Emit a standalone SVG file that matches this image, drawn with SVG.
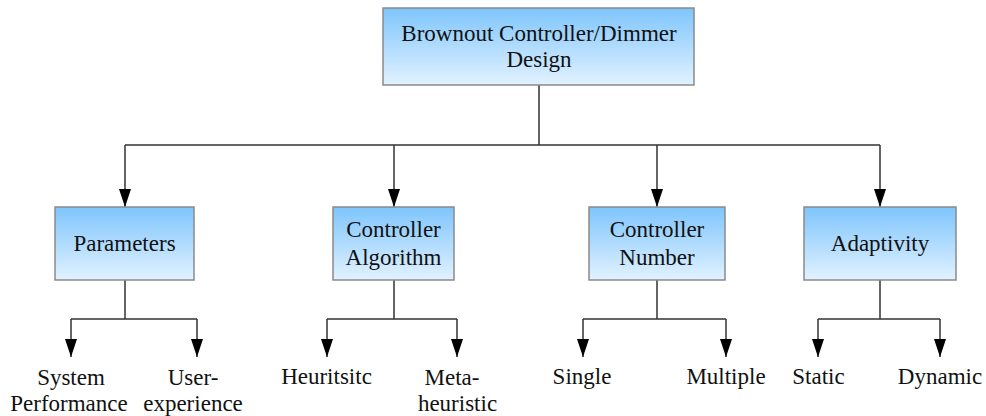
<svg xmlns="http://www.w3.org/2000/svg" width="986" height="416" viewBox="0 0 986 416">
  <defs>
    <linearGradient id="boxFill" x1="0" y1="0" x2="0" y2="1">
      <stop offset="0" stop-color="#7ec5fc"/>
      <stop offset="1" stop-color="#e2f2ff"/>
    </linearGradient>
    <marker id="arrow" viewBox="0 0 18 12" refX="18" refY="6" markerWidth="18" markerHeight="12" markerUnits="userSpaceOnUse" orient="auto">
      <path d="M0,0 L18,6 L0,12 Z" fill="#000"/>
    </marker>
    <style>
      .box { fill: url(#boxFill); stroke: #8a8a8a; stroke-width: 1.5; }
      .lbl { font-size: 23px; fill: #111; text-anchor: middle; }
      .wire { fill: none; stroke: #333; stroke-width: 1.5; }
    </style>
  </defs>
  <rect width="986" height="416" fill="#fff"/>

  <!-- connectors -->
  <g id="connectors">
    <path class="wire" d="M539,85 V145 M125,145 H880"/>
    <path class="wire" d="M125,145 V207" marker-end="url(#arrow)"/>
    <path class="wire" d="M394,145 V207" marker-end="url(#arrow)"/>
    <path class="wire" d="M657,145 V207" marker-end="url(#arrow)"/>
    <path class="wire" d="M880,145 V207" marker-end="url(#arrow)"/>

    <path class="wire" d="M125,280 V319 M71,319 H197"/>
    <path class="wire" d="M71,319 V357" marker-end="url(#arrow)"/>
    <path class="wire" d="M197,319 V357" marker-end="url(#arrow)"/>

    <path class="wire" d="M394,280 V319 M327,319 H457"/>
    <path class="wire" d="M327,319 V357" marker-end="url(#arrow)"/>
    <path class="wire" d="M457,319 V357" marker-end="url(#arrow)"/>

    <path class="wire" d="M657,280 V319 M583,319 H726"/>
    <path class="wire" d="M583,319 V357" marker-end="url(#arrow)"/>
    <path class="wire" d="M726,319 V357" marker-end="url(#arrow)"/>

    <path class="wire" d="M880,280 V319 M818,319 H940"/>
    <path class="wire" d="M818,319 V357" marker-end="url(#arrow)"/>
    <path class="wire" d="M940,319 V357" marker-end="url(#arrow)"/>
  </g>

  <g font-family="Liberation Serif, DejaVu Serif, Times New Roman, serif">
  <!-- root -->
  <g id="root">
    <rect class="box" x="383" y="8" width="311" height="77"/>
    <text class="lbl" x="539" y="41">Brownout Controller/Dimmer</text>
    <text class="lbl" x="539" y="67">Design</text>
  </g>

  <!-- second level -->
  <g id="parameters">
    <rect class="box" x="55" y="207" width="139" height="73"/>
    <text class="lbl" x="124.5" y="251">Parameters</text>
  </g>
  <g id="controller-algorithm">
    <rect class="box" x="333" y="207" width="121" height="73"/>
    <text class="lbl" x="393.5" y="237">Controller</text>
    <text class="lbl" x="393.5" y="265">Algorithm</text>
  </g>
  <g id="controller-number">
    <rect class="box" x="589" y="207" width="136" height="73"/>
    <text class="lbl" x="657" y="237">Controller</text>
    <text class="lbl" x="657" y="265">Number</text>
  </g>
  <g id="adaptivity">
    <rect class="box" x="804" y="207" width="152" height="73"/>
    <text class="lbl" x="880" y="251">Adaptivity</text>
  </g>

  <!-- leaves -->
  <g id="system-performance">
    <text class="lbl" x="71" y="385">System</text>
    <text class="lbl" x="69" y="411">Performance</text>
  </g>
  <g id="user-experience">
    <text class="lbl" x="193" y="385">User-</text>
    <text class="lbl" x="193" y="411">experience</text>
  </g>
  <g id="heuristic">
    <text class="lbl" x="326.5" y="384">Heuritsitc</text>
  </g>
  <g id="meta-heuristic">
    <text class="lbl" x="452" y="385">Meta-</text>
    <text class="lbl" x="457.5" y="411">heuristic</text>
  </g>
  <g id="single">
    <text class="lbl" x="582" y="384">Single</text>
  </g>
  <g id="multiple">
    <text class="lbl" x="726" y="384">Multiple</text>
  </g>
  <g id="static">
    <text class="lbl" x="818.5" y="384">Static</text>
  </g>
  <g id="dynamic">
    <text class="lbl" x="940" y="384">Dynamic</text>
  </g>
  </g>
</svg>
